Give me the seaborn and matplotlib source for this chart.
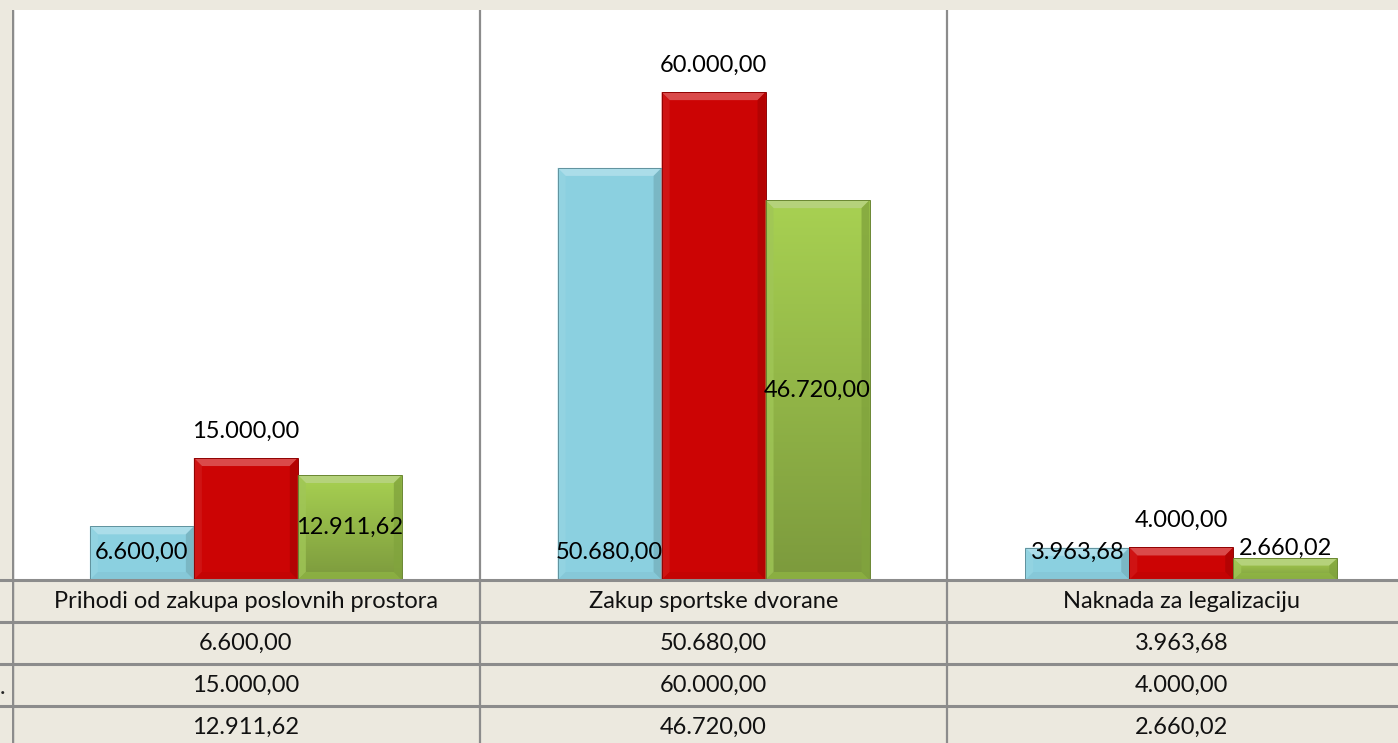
import numpy as np
import pandas as pd
import matplotlib
matplotlib.use("Agg")
import matplotlib.pyplot as plt
import matplotlib.colors as mcolors
from matplotlib.patches import Polygon
import seaborn as sns

categories = ["Prihodi od zakupa poslovnih prostora", "Zakup sportske dvorane", "Naknada za legalizaciju"]
series_names = ["Serija 1", "Serija 2", "Serija 3"]
values_1 = [6600.00, 50680.00, 3963.68]
values_2 = [15000.00, 60000.00, 4000.00]
values_3 = [12911.62, 46720.00, 2660.02]
row_marks = ["", ".", ""]

colors = ["#8BD0E0", "#CC0404", "#98C148"]

def fmt(v):
    s = f"{v:,.2f}"
    return s.replace(",", "X").replace(".", ",").replace("X", ".")

rows = []
for name, vals in zip(series_names, [values_1, values_2, values_3]):
    for c, v in zip(categories, vals):
        rows.append({"kategorija": c, "serija": name, "iznos": v})
df = pd.DataFrame(rows)

sns.set_style("white")
plt.rcParams["font.family"] = ["Lato", "DejaVu Sans"]

W, H = 1398, 743
fig = plt.figure(figsize=(W / 100, H / 100), dpi=100)
fig.patch.set_facecolor("#ECE9DF")

px = lambda x: x / W
py = lambda y: 1 - y / H
cat_w = 467.7
left = 12
ax = fig.add_axes([px(left), py(580), px(3 * cat_w), (580 - 10) / H])
ax.set_facecolor("white")

sns.barplot(data=df, x="kategorija", y="iznos", hue="serija", palette=colors,
            saturation=1, width=0.667, gap=0, legend=False, ax=ax,
            edgecolor="none", linewidth=0, err_kws={"linewidth": 0})
ax.set_xlim(-0.5, 2.5)
ax.set_ylim(0, 70100)
ax.set_xlabel("")
ax.set_ylabel("")
ax.set_xticks([])
ax.set_yticks([])
for s in ax.spines.values():
    s.set_visible(False)

# pixel -> data conversion for bevels
dx_px = 3.0 / (3 * cat_w)
dy_px = 70100 / 570.0


def shade(c, f):
    r, g, b = mcolors.to_rgb(c)
    if f > 0:
        return (r + (1 - r) * f, g + (1 - g) * f, b + (1 - b) * f)
    return (r * (1 + f), g * (1 + f), b * (1 + f))


for k, cont in enumerate(ax.containers):
    base = colors[k]
    for p in cont.patches:
        x0 = p.get_x()
        x1 = x0 + p.get_width()
        y1 = p.get_height()
        bx = 8 * dx_px
        by = min(8 * dy_px, y1 / 3)
        if k == 2:
            # vertical gradient for green bars
            grad = np.linspace(0, 1, 256).reshape(-1, 1)
            cmap = mcolors.LinearSegmentedColormap.from_list("g", ["#7C9A3D", "#A8D152"])
            im = ax.imshow(grad, extent=[x0, x1, 0, y1], origin="lower", cmap=cmap,
                           aspect="auto", zorder=p.get_zorder() + 0.1)
            im.set_clip_path(p)
        top = Polygon([[x0, y1], [x1, y1], [x1 - bx, y1 - by], [x0 + bx, y1 - by]],
                      closed=True, facecolor=shade(base, 0.28), edgecolor="none",
                      zorder=p.get_zorder() + 0.2)
        lft = Polygon([[x0, 0], [x0, y1], [x0 + bx, y1 - by], [x0 + bx, by]],
                      closed=True, facecolor=shade(base, 0.08), edgecolor="none",
                      zorder=p.get_zorder() + 0.2, alpha=0.8)
        rgt = Polygon([[x1, 0], [x1, y1], [x1 - bx, y1 - by], [x1 - bx, by]],
                      closed=True, facecolor=shade(base, -0.15), edgecolor="none",
                      zorder=p.get_zorder() + 0.2, alpha=0.8)
        bot = Polygon([[x0, 0], [x1, 0], [x1 - bx, by], [x0 + bx, by]],
                      closed=True, facecolor=shade(base, -0.05), edgecolor="none",
                      zorder=p.get_zorder() + 0.2, alpha=0.7)
        for poly in (top, lft, rgt, bot):
            ax.add_patch(poly)
        ax.add_patch(plt.Rectangle((x0, 0), x1 - x0, y1, facecolor="none",
                                   edgecolor=shade(base, -0.3), linewidth=0.7,
                                   zorder=p.get_zorder() + 0.3))

fs = 17
# data labels
for k, cont in enumerate(ax.containers):
    for p, v in zip(cont.patches, [values_1, values_2, values_3][k]):
        xc = p.get_x() + p.get_width() / 2
        h = p.get_height()
        if k == 0:
            ax.text(xc, 3450, fmt(v), ha="center", va="center", fontsize=fs, color="black", zorder=10)
        elif k == 1:
            ax.text(xc, h + 27 * dy_px, fmt(v), ha="center", va="center", fontsize=fs, color="black", zorder=10)
        else:
            ax.text(xc, max(h / 2, 3900), fmt(v), ha="center", va="center", fontsize=fs, color="black", zorder=10)

for xv in [-0.5, 0.5, 1.5]:
    ax.axvline(xv, color="#8C8C8C", lw=2.5 if xv < 0 else 1.6, zorder=0.5)

# data table
tax = fig.add_axes([px(left), py(748), px(3 * cat_w), 168 / H])
tax.set_xlim(-0.5, 2.5)
tax.set_ylim(4, 0)
tax.set_facecolor("#ECE9DF")
tax.set_xticks([])
tax.set_yticks([])
for s in tax.spines.values():
    s.set_visible(False)
for yv in [0, 1, 2, 3]:
    tax.axhline(yv, color="#8C8C8C", lw=2.2, xmin=-0.02, xmax=1.0, clip_on=False)
for xv in [-0.5, 0.5, 1.5]:
    tax.axvline(xv, color="#8C8C8C", lw=2.5 if xv < 0 else 1.6)
for i, c in enumerate(categories):
    tax.text(i, 0.5, c, ha="center", va="center", fontsize=fs, color="#111111")
for r, vals in enumerate([values_1, values_2, values_3]):
    for i, v in enumerate(vals):
        tax.text(i, r + 1.5, fmt(v), ha="center", va="center", fontsize=fs, color="#111111")
    if row_marks[r]:
        fig.text(px(3), py(667 + 42 * (r - 1) + 20), row_marks[r], ha="center", va="center", fontsize=fs)

fig.savefig("out.png", dpi=100, facecolor=fig.get_facecolor())
